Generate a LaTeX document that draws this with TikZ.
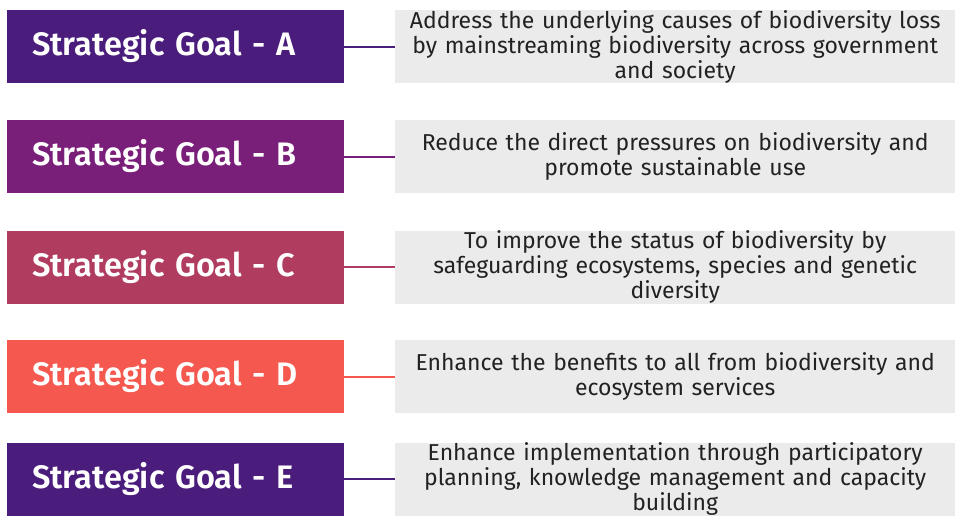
\documentclass[tikz,border=0pt]{standalone}
\usepackage{fontspec}
\setmainfont{Fira Sans}[BoldFont={Fira Sans SemiBold}]
\usepackage{tikz}
\usetikzlibrary{positioning}
\usepackage{xcolor}

\definecolor{goalA}{HTML}{4A1C7C}
\definecolor{goalB}{HTML}{7A1F79}
\definecolor{goalC}{HTML}{B03C5F}
\definecolor{goalD}{HTML}{F5584E}
\definecolor{goalE}{HTML}{4A1C7C}
\definecolor{descgray}{HTML}{EBEBEB}
\definecolor{desctext}{HTML}{222222}

\tikzset{
  goalbox/.style={draw=none, fill=#1, anchor=west, text=white, font=\fontsize{32.5}{36}\selectfont\bfseries,
    text width=287pt, align=left, inner xsep=25pt, inner ysep=0pt, minimum height=73pt},
  descbox/.style={fill=descgray, anchor=west, text=desctext, font=\fontsize{23}{25}\selectfont,
    text width=556pt, align=center, inner xsep=2pt, inner ysep=0pt, minimum height=73pt},
  goalline/.style={draw=#1, line width=2pt}
}

\begin{document}
\begin{tikzpicture}[x=1pt, y=-1pt]
    \useasboundingbox (0, 0) rectangle (957, 520);

    % Goal A
    \node[goalbox=goalA] (ga) at (7, 46.5) {Strategic Goal - A};
    \node[descbox] (da) at (395, 46.5) {Address the underlying causes of biodiversity loss\\
      by mainstreaming biodiversity across government\\ and society};
    \draw[goalline=goalA] (ga) -- (da);

    % Goal B
    \node[goalbox=goalB] (gb) at (7, 156.5) {Strategic Goal - B};
    \node[descbox] (db) at (395, 156.5) {Reduce the direct pressures on biodiversity and\\
      promote sustainable use};
    \draw[goalline=goalB] (gb) -- (db);

    % Goal C
    \node[goalbox=goalC] (gc) at (7, 267) {Strategic Goal - C};
    \node[descbox] (dc) at (395, 267) {To improve the status of biodiversity by\\
      safeguarding ecosystems, species and genetic\\ diversity};
    \draw[goalline=goalC] (gc) -- (dc);

    % Goal D
    \node[goalbox=goalD] (gd) at (7, 376.5) {Strategic Goal - D};
    \node[descbox] (dd) at (395, 376.5) {Enhance the benefits to all from biodiversity and\\
      ecosystem services};
    \draw[goalline=goalD] (gd) -- (dd);

    % Goal E
    \node[goalbox=goalE] (ge) at (7, 479) {Strategic Goal - E};
    \node[descbox] (de) at (395, 479) {Enhance implementation through participatory\\
      planning, knowledge management and capacity\\ building};
    \draw[goalline=goalE] (ge) -- (de);
\end{tikzpicture}
\end{document}
